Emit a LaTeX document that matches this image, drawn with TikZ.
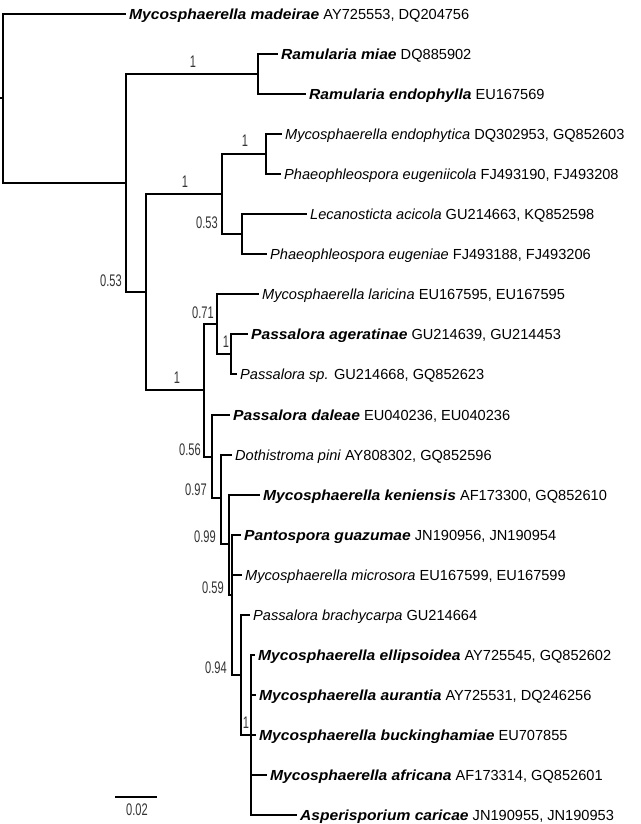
\documentclass[tikz,border=0pt]{standalone}
\usepackage{fontspec}
\setmainfont{Liberation Sans}[BoldItalicFeatures={FakeStretch=1.07}]
\newfontfamily\narrowsf[FakeStretch=0.66]{Liberation Sans}

\begin{document}
\begin{tikzpicture}[x=1pt, y=-1pt,
    branch/.style={line width=2.8pt, line join=miter},
    taxon/.style={anchor=west, inner sep=0pt, xshift=3pt, text height=10.5pt, text depth=0pt,
                  font=\fontsize{14.6}{17}\selectfont},
    support/.style={inner sep=0pt, text=black!80, font=\narrowsf\fontsize{16.8}{19}\selectfont}]
    \useasboundingbox (0,0) rectangle (640,824);

    % Internal nodes
    \coordinate (base) at (0,98);
    \coordinate (root) at (3,98);
    \coordinate (nA) at (126,183);
    \coordinate (nRam) at (258,74);
    \coordinate (nB) at (146,292);
    \coordinate (nC) at (222,194);
    \coordinate (nC1) at (266,154);
    \coordinate (nC2) at (242,234);
    \coordinate (nD) at (204,390);
    \coordinate (nE) at (217,324);
    \coordinate (nF) at (231,354);
    \coordinate (nG) at (212,457);
    \coordinate (nH) at (221,498);
    \coordinate (nI) at (229,544);
    \coordinate (nJ) at (232,595);
    \coordinate (nK) at (241,675);
    \coordinate (nL) at (251,735);

    % Branch tips
    \coordinate (t1) at (126,14);
    \coordinate (t2) at (278,54);
    \coordinate (t3) at (306,94);
    \coordinate (t4) at (282,134);
    \coordinate (t5) at (281,174);
    \coordinate (t6) at (307,214);
    \coordinate (t7) at (267,254);
    \coordinate (t8) at (259,294);
    \coordinate (t9) at (248,334);
    \coordinate (t10) at (237,374);
    \coordinate (t11) at (230,415);
    \coordinate (t12) at (232,455);
    \coordinate (t13) at (260,495);
    \coordinate (t14) at (241,535);
    \coordinate (t15) at (242,575);
    \coordinate (t16) at (250,615);
    \coordinate (t17) at (255,655);
    \coordinate (t18) at (256,695);
    \coordinate (t19) at (256,735);
    \coordinate (t20) at (267,775);
    \coordinate (t21) at (297,815);

    % Branches
    \draw[branch] (base) -- (root);
    \draw[branch] (root) |- (t1);
    \draw[branch] (root) |- (nA);
    \draw[branch] (nA) |- (nRam);
    \draw[branch] (nA) |- (nB);
    \draw[branch] (nRam) |- (t2);
    \draw[branch] (nRam) |- (t3);
    \draw[branch] (nB) |- (nC);
    \draw[branch] (nB) |- (nD);
    \draw[branch] (nC) |- (nC1);
    \draw[branch] (nC) |- (nC2);
    \draw[branch] (nC1) |- (t4);
    \draw[branch] (nC1) |- (t5);
    \draw[branch] (nC2) |- (t6);
    \draw[branch] (nC2) |- (t7);
    \draw[branch] (nD) |- (nE);
    \draw[branch] (nD) |- (nG);
    \draw[branch] (nE) |- (t8);
    \draw[branch] (nE) |- (nF);
    \draw[branch] (nF) |- (t9);
    \draw[branch] (nF) |- (t10);
    \draw[branch] (nG) |- (t11);
    \draw[branch] (nG) |- (nH);
    \draw[branch] (nH) |- (t12);
    \draw[branch] (nH) |- (nI);
    \draw[branch] (nI) |- (t13);
    \draw[branch] (nI) |- (nJ);
    \draw[branch] (nJ) |- (t14);
    \draw[branch] (nJ) |- (t15);
    \draw[branch] (nJ) |- (nK);
    \draw[branch] (nK) |- (t16);
    \draw[branch] (nK) |- (nL);
    \draw[branch] (nL) |- (t17);
    \draw[branch] (nL) |- (t18);
    \draw[branch] (nL) |- (t19);
    \draw[branch] (nL) |- (t20);
    \draw[branch] (nL) |- (t21);

    % Taxa
    \node[taxon] (madeirae) at (t1) {\textbf{\textit{Mycosphaerella madeirae}} AY725553, DQ204756};
    \node[taxon] (miae) at (t2) {\textbf{\textit{Ramularia miae}} DQ885902};
    \node[taxon] (endophylla) at (t3) {\textbf{\textit{Ramularia endophylla}} EU167569};
    \node[taxon] (endophytica) at (t4) {\textit{Mycosphaerella endophytica} DQ302953, GQ852603};
    \node[taxon] (eugeniicola) at (t5) {\textit{Phaeophleospora eugeniicola} FJ493190, FJ493208};
    \node[taxon] (acicola) at (t6) {\textit{Lecanosticta acicola} GU214663, KQ852598};
    \node[taxon] (eugeniae) at (t7) {\textit{Phaeophleospora eugeniae} FJ493188, FJ493206};
    \node[taxon] (laricina) at (t8) {\textit{Mycosphaerella laricina} EU167595, EU167595};
    \node[taxon] (ageratinae) at (t9) {\textbf{\textit{Passalora ageratinae}} GU214639, GU214453};
    \node[taxon] (passp) at (t10) {\textit{Passalora sp.} GU214668, GQ852623};
    \node[taxon] (daleae) at (t11) {\textbf{\textit{Passalora daleae}} EU040236, EU040236};
    \node[taxon] (pini) at (t12) {\textit{Dothistroma pini} AY808302, GQ852596};
    \node[taxon] (keniensis) at (t13) {\textbf{\textit{Mycosphaerella keniensis}} AF173300, GQ852610};
    \node[taxon] (guazumae) at (t14) {\textbf{\textit{Pantospora guazumae}} JN190956, JN190954};
    \node[taxon] (microsora) at (t15) {\textit{Mycosphaerella microsora} EU167599, EU167599};
    \node[taxon] (brachycarpa) at (t16) {\textit{Passalora brachycarpa} GU214664};
    \node[taxon] (ellipsoidea) at (t17) {\textbf{\textit{Mycosphaerella ellipsoidea}} AY725545, GQ852602};
    \node[taxon] (aurantia) at (t18) {\textbf{\textit{Mycosphaerella aurantia}} AY725531, DQ246256};
    \node[taxon] (buckinghamiae) at (t19) {\textbf{\textit{Mycosphaerella buckinghamiae}} EU707855};
    \node[taxon] (africana) at (t20) {\textbf{\textit{Mycosphaerella africana}} AF173314, GQ852601};
    \node[taxon] (caricae) at (t21) {\textbf{\textit{Asperisporium caricae}} JN190955, JN190953};

    % Support values
    \node[support] (sRam) at (193,62) {1};
    \node[support] (sC) at (185,182) {1};
    \node[support] (sC1) at (245,141) {1};
    \node[support] (sC2) at (207,223) {0.53};
    \node[support] (sB) at (111,281) {0.53};
    \node[support] (sD) at (177,378) {1};
    \node[support] (sE) at (203,313) {0.71};
    \node[support] (sF) at (226,342) {1};
    \node[support] (sG) at (190,450) {0.56};
    \node[support] (sH) at (196,490) {0.97};
    \node[support] (sI) at (205,537) {0.99};
    \node[support] (sJ) at (213,588) {0.59};
    \node[support] (sK) at (216,668) {0.94};
    \node[support] (sL) at (246,723) {1};

    % Scale bar
    \coordinate (bar1) at (115,797);
    \coordinate (bar2) at (157,797);
    \draw[line width=2.4pt] (bar1) -- (bar2);
    \node[support] (barlabel) at (137,810) {0.02};
\end{tikzpicture}
\end{document}
